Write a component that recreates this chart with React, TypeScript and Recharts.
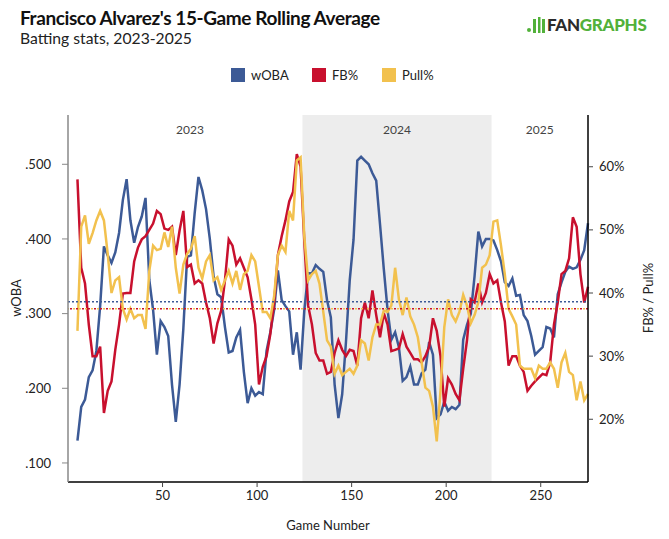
import { ComposedChart, Line, XAxis, YAxis, ReferenceArea, ReferenceLine } from 'recharts';

// 15-game rolling values, read every second game
const GAMES = [
  5, 7, 9, 11, 13, 15, 17, 19, 21, 23, 25, 27, 29, 31, 33, 35, 37, 39, 41, 43,
  45, 47, 49, 51, 53, 55, 57, 59, 61, 63, 65, 67, 69, 71, 73, 75, 77, 79, 81, 83,
  85, 87, 89, 91, 93, 95, 97, 99, 101, 103, 105, 107, 109, 111, 113, 115, 117, 119, 121, 123,
  125, 127, 129, 131, 133, 135, 137, 139, 141, 143, 145, 147, 149, 151, 153, 155, 157, 159, 161, 163,
  165, 167, 169, 171, 173, 175, 177, 179, 181, 183, 185, 187, 189, 191, 193, 195, 197, 199, 201, 203,
  205, 207, 209, 211, 213, 215, 217, 219, 221, 223, 225, 227, 229, 231, 233, 235, 237, 239, 241, 243,
  245, 247, 249, 251, 253, 255, 257, 259, 261, 263, 265, 267, 269, 271, 273, 275,
];

const WOBA = [
  0.130, 0.175, 0.185, 0.215, 0.224, 0.250, 0.310, 0.390, 0.378, 0.368, 0.382, 0.408, 0.452, 0.480, 0.425, 0.395, 0.416, 0.430, 0.455, 0.345,
  0.305, 0.245, 0.290, 0.282, 0.270, 0.205, 0.155, 0.205, 0.280, 0.376, 0.378, 0.435, 0.483, 0.465, 0.440, 0.400, 0.350, 0.326, 0.322, 0.282,
  0.248, 0.250, 0.268, 0.278, 0.222, 0.180, 0.200, 0.190, 0.195, 0.192, 0.250, 0.275, 0.305, 0.358, 0.318, 0.310, 0.303, 0.245, 0.275, 0.225,
  0.305, 0.354, 0.354, 0.365, 0.360, 0.356, 0.318, 0.295, 0.205, 0.160, 0.192, 0.262, 0.345, 0.399, 0.505, 0.510, 0.505, 0.500, 0.488, 0.478,
  0.420, 0.360, 0.305, 0.265, 0.275, 0.255, 0.210, 0.215, 0.229, 0.205, 0.205, 0.220, 0.225, 0.262, 0.245, 0.160, 0.165, 0.182, 0.170, 0.175,
  0.172, 0.178, 0.265, 0.285, 0.300, 0.350, 0.410, 0.390, 0.400, 0.400, 0.398, 0.385, 0.370, 0.342, 0.337, 0.347, 0.324, 0.325, 0.298, 0.290,
  0.270, 0.245, 0.250, 0.255, 0.282, 0.280, 0.268, 0.326, 0.342, 0.356, 0.363, 0.360, 0.362, 0.372, 0.385, 0.421,
];

const FB_PCT = [
  58.0, 44.0, 41.5, 35.0, 30.0, 30.0, 31.5, 21.0, 24.5, 26.0, 31.0, 35.0, 39.9, 40.0, 40.0, 45.0, 47.2, 48.5, 49.0, 50.0,
  51.0, 53.0, 52.5, 50.2, 50.0, 50.5, 46.0, 49.9, 53.0, 44.1, 44.5, 41.5, 42.0, 41.5, 38.5, 36.0, 32.0, 35.2, 37.2, 42.0,
  48.5, 47.5, 44.5, 45.5, 44.0, 42.5, 39.0, 35.0, 25.5, 28.3, 30.0, 33.5, 38.5, 46.0, 49.0, 51.5, 54.5, 56.0, 62.0, 60.0,
  48.0, 38.0, 35.0, 30.5, 29.3, 29.3, 27.2, 27.5, 30.5, 32.5, 31.0, 30.0, 31.0, 30.8, 28.5, 36.0, 38.5, 36.0, 40.4, 36.5,
  33.0, 36.8, 35.0, 30.8, 31.0, 31.2, 33.5, 31.5, 30.5, 29.5, 29.5, 29.0, 30.0, 31.5, 36.0, 34.0, 30.0, 22.0, 26.5, 25.5,
  24.0, 23.0, 28.0, 32.5, 39.0, 38.5, 41.5, 38.5, 40.0, 43.0, 41.5, 42.0, 38.5, 35.5, 28.5, 30.0, 30.0, 28.5, 27.5, 24.5,
  25.3, 26.0, 26.6, 27.2, 27.0, 29.0, 35.0, 38.5, 43.0, 43.5, 45.5, 52.0, 50.5, 43.0, 38.5, 41.0,
];

const PULL_PCT = [
  34.0, 50.5, 52.3, 47.8, 49.5, 51.5, 53.0, 51.5, 46.2, 40.0, 42.0, 42.5, 37.5, 35.8, 37.5, 36.0, 36.5, 36.5, 34.3, 43.5,
  47.5, 46.8, 47.0, 49.6, 47.3, 50.5, 44.0, 39.9, 44.5, 46.2, 47.0, 49.0, 44.0, 42.3, 45.0, 46.0, 42.0, 42.5, 40.5, 42.0,
  43.5, 41.5, 43.5, 40.5, 43.0, 43.5, 46.0, 45.0, 41.0, 37.0, 37.0, 36.0, 39.5, 46.0, 47.5, 46.5, 53.0, 51.5, 61.0, 61.5,
  48.8, 42.0, 43.0, 43.5, 41.5, 37.0, 32.5, 31.5, 27.2, 28.5, 27.0, 27.5, 28.0, 27.2, 28.5, 32.5, 32.0, 29.3, 33.0, 35.0,
  35.0, 37.2, 37.0, 38.0, 44.0, 39.0, 36.5, 39.3, 36.3, 35.0, 33.0, 29.0, 25.0, 24.5, 22.0, 16.5, 24.5, 34.6, 39.0, 36.5,
  35.5, 37.0, 39.7, 38.0, 35.2, 36.5, 38.5, 44.0, 44.5, 46.0, 51.3, 51.5, 47.5, 43.0, 37.5, 36.3, 35.0, 28.5, 28.0, 28.0,
  28.0, 26.5, 28.5, 28.0, 28.0, 29.0, 28.0, 25.0, 29.0, 30.5, 27.5, 27.0, 23.0, 26.0, 23.0, 24.0,
];

const SEASON_LABELS = ['2023', '2024', '2025'];
const SEASON_BOUNDS = [5, 124, 224, 275];

const GAME_TICKS = [50, 100, 150, 200, 250];
const WOBA_TICKS = [0.1, 0.2, 0.3, 0.4, 0.5];
const PCT_TICKS = [20, 30, 40, 50, 60];

const AVG_WOBA = 0.316;
const AVG_FB = 37.5;
const AVG_PULL = 37.5;

const BLUE = '#3c5a96';
const RED = '#c8102e';
const YELLOW = '#f2c14e';
const FONT = 'Lato, sans-serif';

const rows = GAMES.map((game, i) => ({
  game,
  woba: WOBA[i],
  fb: FB_PCT[i],
  pull: PULL_PCT[i],
}));

const legendItems = [
  { name: 'wOBA', color: BLUE, left: 231 },
  { name: 'FB%', color: RED, left: 312 },
  { name: 'Pull%', color: YELLOW, left: 382 },
];

function Logo() {
  return (
    <div style={{ position: 'absolute', left: 527, top: 14, display: 'flex', alignItems: 'center' }}>
      <svg width={20} height={18} viewBox="0 0 20 18">
        <circle cx={2} cy={14} r={2} fill="#52b13a" />
        <rect x={6} y={3} width={3} height={14} fill="#52b13a" />
        <rect x={11} y={1} width={2.5} height={16} fill="#52b13a" />
        <rect x={15} y={3} width={3} height={14} fill="#52b13a" />
      </svg>
      <span style={{ fontFamily: FONT, fontWeight: 900, fontSize: 17, color: '#2b2b2b', letterSpacing: -0.3 }}>FAN</span>
      <span style={{ fontFamily: FONT, fontWeight: 900, fontSize: 17, color: '#52b13a', letterSpacing: -0.3 }}>GRAPHS</span>
    </div>
  );
}

export default function App() {
  return (
    <div style={{ position: 'absolute', left: 0, top: 0, width: 669, height: 539, background: '#fff', fontFamily: FONT }}>
      <div style={{ position: 'absolute', left: 20, top: 8, fontSize: 19, fontWeight: 700, lineHeight: 1, color: '#111', letterSpacing: -0.4, whiteSpace: 'nowrap' }}>
        Francisco Alvarez's 15-Game Rolling Average
      </div>
      <div style={{ position: 'absolute', left: 20, top: 30.5, fontSize: 15.7, lineHeight: 1, color: '#222', whiteSpace: 'nowrap' }}>
        Batting stats, 2023-2025
      </div>
      <Logo />

      {legendItems.map(item => (
        <div key={item.name} style={{ position: 'absolute', left: item.left, top: 67, display: 'flex', alignItems: 'center' }}>
          <div style={{ width: 14, height: 14, background: item.color }} />
          <span style={{ marginLeft: 6, fontSize: 13, color: '#222' }}>{item.name}</span>
        </div>
      ))}

      <ComposedChart width={669} height={539} data={rows} margin={{ top: 115, right: 21, bottom: 27, left: 20 }}>
        <ReferenceArea yAxisId="left" x1={SEASON_BOUNDS[1]} x2={SEASON_BOUNDS[2]} fill="#ededed" fillOpacity={1} stroke="none" />
        {SEASON_LABELS.map((label, i) => (
          <ReferenceArea
            key={label}
            yAxisId="left"
            x1={SEASON_BOUNDS[i]}
            x2={SEASON_BOUNDS[i + 1]}
            fill="none"
            stroke="none"
            label={{ value: label, position: 'insideTop', offset: 10, fill: '#444', fontSize: 12, fontFamily: FONT }}
          />
        ))}
        <XAxis
          dataKey="game"
          type="number"
          domain={[0, 275]}
          ticks={GAME_TICKS}
          height={30}
          axisLine={{ stroke: '#000', strokeWidth: 1.5 }}
          tickLine={{ stroke: '#444' }}
          tickSize={5}
          tickMargin={4}
          tick={{ fill: '#222', fontSize: 13, fontFamily: FONT }}
        />
        <YAxis
          yAxisId="left"
          domain={[0.0745, 0.566]}
          ticks={WOBA_TICKS}
          allowDataOverflow
          width={48}
          tickFormatter={(v: number) => v.toFixed(3).replace(/^0/, '')}
          axisLine={{ stroke: '#888', strokeWidth: 1.5 }}
          tickLine={{ stroke: '#888' }}
          tickSize={6}
          tickMargin={11}
          tick={{ fill: '#222', fontSize: 13, fontFamily: FONT }}
        />
        <YAxis
          yAxisId="right"
          orientation="right"
          domain={[10.06, 68.2]}
          ticks={PCT_TICKS}
          allowDataOverflow
          width={60}
          tickFormatter={(v: number) => `${v}%`}
          axisLine={{ stroke: '#000', strokeWidth: 1.5 }}
          tickLine={{ stroke: '#444' }}
          tickSize={5}
          tickMargin={6}
          tick={{ fill: '#222', fontSize: 13, fontFamily: FONT }}
        />
        <Line yAxisId="left" dataKey="woba" stroke={BLUE} strokeWidth={2.5} dot={false} isAnimationActive={false} />
        <Line yAxisId="right" dataKey="fb" stroke={RED} strokeWidth={2.5} dot={false} isAnimationActive={false} />
        <Line yAxisId="right" dataKey="pull" stroke={YELLOW} strokeWidth={2.5} dot={false} isAnimationActive={false} />
        <ReferenceLine yAxisId="left" y={AVG_WOBA} stroke={BLUE} strokeWidth={1.5} strokeDasharray="2 2" />
        <ReferenceLine yAxisId="right" y={AVG_FB} stroke={RED} strokeWidth={1.5} strokeDasharray="2 4" />
        <ReferenceLine yAxisId="right" y={AVG_PULL} stroke={YELLOW} strokeWidth={1.5} strokeDasharray="0 3 2 1" />
      </ComposedChart>

      <div style={{ position: 'absolute', left: 16, top: 298, transform: 'translate(-50%, -50%) rotate(-90deg)', fontSize: 13, color: '#222', whiteSpace: 'nowrap' }}>
        wOBA
      </div>
      <div style={{ position: 'absolute', left: 648, top: 298, transform: 'translate(-50%, -50%) rotate(-90deg)', fontSize: 13, color: '#222', whiteSpace: 'nowrap' }}>
        FB% / Pull%
      </div>
      <div style={{ position: 'absolute', left: 328, top: 525, transform: 'translate(-50%, -50%)', fontSize: 13, color: '#222', whiteSpace: 'nowrap' }}>
        Game Number
      </div>
    </div>
  );
}
